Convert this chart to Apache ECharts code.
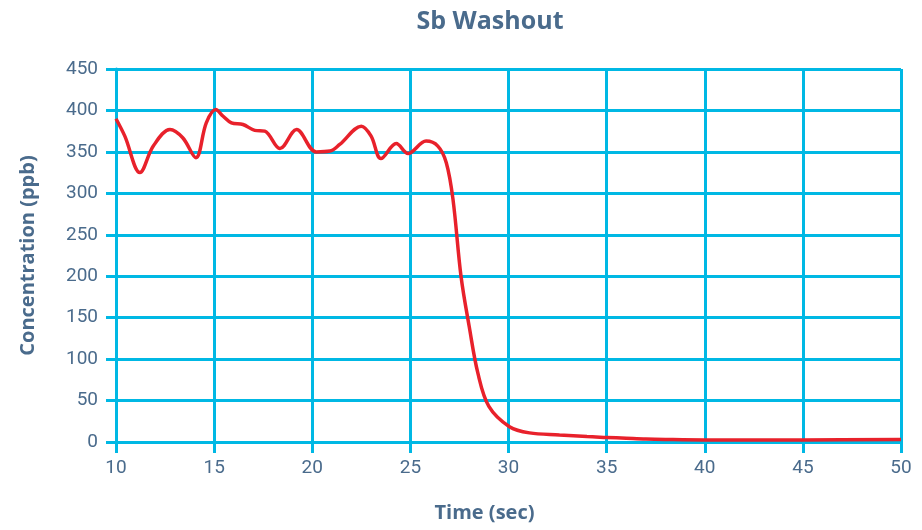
<!DOCTYPE html>
<html>
<head>
<meta charset="utf-8">
<script src="https://cdn.jsdelivr.net/npm/echarts@6/dist/echarts.min.js"></script>
<style>
  html, body { margin: 0; padding: 0; background: #fff; }
  #chart { width: 922px; height: 530px; }
</style>
</head>
<body>
<div id="chart"></div>
<script>
// time (sec) and Sb concentration (ppb)
const times = [10, 10.45, 11.22, 11.9, 12.75, 13.4, 14.07, 14.6, 15.08, 15.46, 15.88, 16.47, 17.07, 17.58, 18.35, 19.2, 20.2, 20.9, 21.4, 22.5, 23.0, 23.5, 24.28, 24.88, 25.8, 26.4, 26.83, 27.17, 27.58, 28.0, 28.44, 29.0, 30.05, 31.07, 32.6, 34, 35, 36, 37, 38, 40, 45, 50];
const conc = [390, 369, 325, 357, 377, 367, 343, 385, 401, 393, 385, 383, 376, 375, 354, 377, 350, 351, 359, 381, 369, 342, 360, 348, 363, 357, 337, 293, 200, 139, 83, 43, 18.5, 11, 8.5, 6.5, 5.5, 4.5, 3.5, 3, 2.5, 2.5, 3];

const textColor = '#4a6b8c'
const gridColor = '#00b8e4'

const chart = echarts.init(document.getElementById('chart'))

const lineStyle = { color: gridColor, width: 3 }

const option = {
    title: {
        text: 'Sb Washout',
        left: 485,
        top: 4,
        textAlign: 'center',
        textStyle: {
            color: textColor,
            fontFamily: 'Open Sans',
            fontWeight: 'bold',
            fontSize: 25,
        },
    },
    grid: {
        left: 116,
        right: 21,
        top: 69,
        bottom: 88,
        outerBoundsMode: 'none',
    },
    xAxis: {
        type: 'value',
        min: 10,
        max: 50,
        interval: 5,
        name: 'Time (sec)',
        nameLocation: 'middle',
        nameGap: 61,
        nameTextStyle: {
            color: textColor,
            fontFamily: 'Open Sans',
            fontWeight: 'bold',
            fontSize: 20,
            padding: [0, 48, 0, 0],
        },
        axisLine: { show: true, lineStyle: lineStyle },
        axisTick: { show: true, length: 11, lineStyle: lineStyle },
        splitLine: { show: true, lineStyle: lineStyle },
        axisLabel: {
            color: textColor,
            fontFamily: 'Roboto',
            fontSize: 19,
            margin: 17,
        },
    },
    yAxis: {
        type: 'value',
        min: 0,
        max: 450,
        interval: 50,
        name: 'Concentration (ppb)',
        nameLocation: 'middle',
        nameGap: 78,
        nameTextStyle: {
            color: textColor,
            fontFamily: 'Open Sans',
            fontWeight: 'bold',
            fontSize: 20,
        },
        axisLine: { show: true, lineStyle: lineStyle },
        axisTick: { show: true, length: 10, lineStyle: lineStyle },
        splitLine: { show: true, lineStyle: lineStyle },
        axisLabel: {
            color: textColor,
            fontFamily: 'Roboto',
            fontSize: 19,
            margin: 18,
        },
    },
    series: [
        {
            type: 'line',
            data: times.map((t, i) => [t, conc[i]]),
            smooth: 0.35,
            showSymbol: false,
            lineStyle: { color: '#e8212b', width: 3.5 },
            z: 5,
        },
    ],
}

chart.setOption(option)
</script>
</body>
</html>
